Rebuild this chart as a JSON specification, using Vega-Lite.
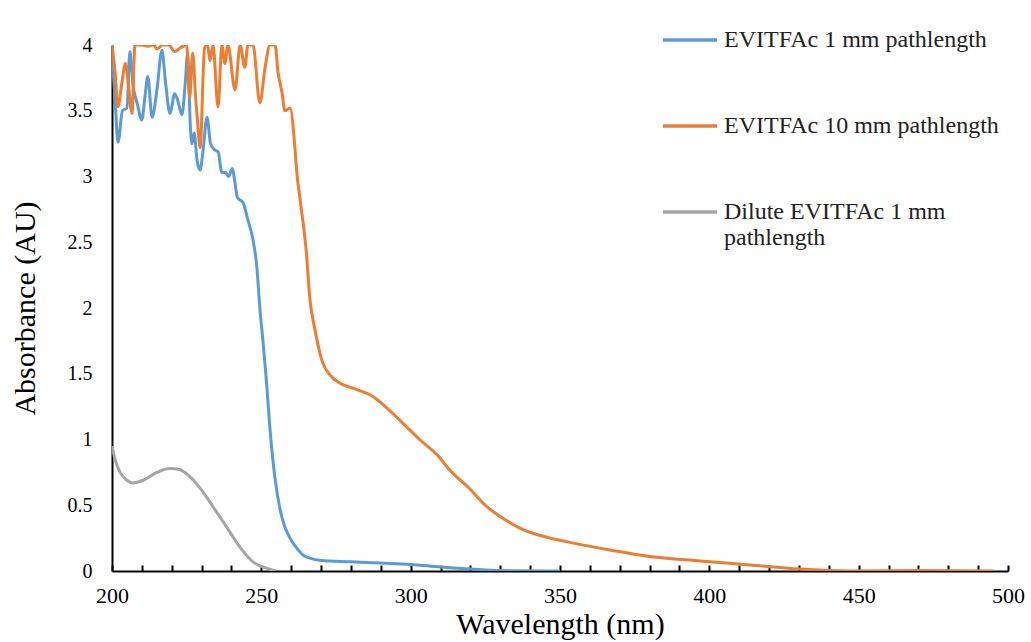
{
  "$schema": "https://vega.github.io/schema/vega-lite/v6.json",
  "width": 896,
  "height": 526,
  "autosize": {"type": "none"},
  "padding": {"left": 112, "top": 45, "right": 23, "bottom": 71},
  "background": "white",
  "config": {"view": {"stroke": null}},
  "data": {"values": [
    {"s": "EVITFAc 1 mm pathlength", "w": 200, "a": 3.92},
    {"s": "EVITFAc 1 mm pathlength", "w": 201, "a": 3.6},
    {"s": "EVITFAc 1 mm pathlength", "w": 202, "a": 3.26},
    {"s": "EVITFAc 1 mm pathlength", "w": 203.5, "a": 3.5},
    {"s": "EVITFAc 1 mm pathlength", "w": 205, "a": 3.52},
    {"s": "EVITFAc 1 mm pathlength", "w": 206, "a": 3.95},
    {"s": "EVITFAc 1 mm pathlength", "w": 207, "a": 3.7},
    {"s": "EVITFAc 1 mm pathlength", "w": 208.5, "a": 3.55},
    {"s": "EVITFAc 1 mm pathlength", "w": 210, "a": 3.43},
    {"s": "EVITFAc 1 mm pathlength", "w": 211, "a": 3.6},
    {"s": "EVITFAc 1 mm pathlength", "w": 212, "a": 3.76},
    {"s": "EVITFAc 1 mm pathlength", "w": 213.4, "a": 3.45},
    {"s": "EVITFAc 1 mm pathlength", "w": 215, "a": 3.65},
    {"s": "EVITFAc 1 mm pathlength", "w": 216.7, "a": 3.96},
    {"s": "EVITFAc 1 mm pathlength", "w": 218, "a": 3.7},
    {"s": "EVITFAc 1 mm pathlength", "w": 219.4, "a": 3.48},
    {"s": "EVITFAc 1 mm pathlength", "w": 221, "a": 3.63},
    {"s": "EVITFAc 1 mm pathlength", "w": 222, "a": 3.58},
    {"s": "EVITFAc 1 mm pathlength", "w": 223.4, "a": 3.47},
    {"s": "EVITFAc 1 mm pathlength", "w": 224.5, "a": 3.7},
    {"s": "EVITFAc 1 mm pathlength", "w": 225.3, "a": 3.93},
    {"s": "EVITFAc 1 mm pathlength", "w": 226.3, "a": 3.35},
    {"s": "EVITFAc 1 mm pathlength", "w": 226.8, "a": 3.25},
    {"s": "EVITFAc 1 mm pathlength", "w": 227.5, "a": 3.33},
    {"s": "EVITFAc 1 mm pathlength", "w": 228.5, "a": 3.12},
    {"s": "EVITFAc 1 mm pathlength", "w": 229.5, "a": 3.05},
    {"s": "EVITFAc 1 mm pathlength", "w": 230.5, "a": 3.2},
    {"s": "EVITFAc 1 mm pathlength", "w": 231.8, "a": 3.45},
    {"s": "EVITFAc 1 mm pathlength", "w": 233, "a": 3.25},
    {"s": "EVITFAc 1 mm pathlength", "w": 234.5, "a": 3.2},
    {"s": "EVITFAc 1 mm pathlength", "w": 235.5, "a": 3.19},
    {"s": "EVITFAc 1 mm pathlength", "w": 236.8, "a": 3.03},
    {"s": "EVITFAc 1 mm pathlength", "w": 238, "a": 3.03},
    {"s": "EVITFAc 1 mm pathlength", "w": 239, "a": 3.0},
    {"s": "EVITFAc 1 mm pathlength", "w": 240.3, "a": 3.06},
    {"s": "EVITFAc 1 mm pathlength", "w": 241, "a": 2.98},
    {"s": "EVITFAc 1 mm pathlength", "w": 242, "a": 2.84},
    {"s": "EVITFAc 1 mm pathlength", "w": 243.9, "a": 2.8},
    {"s": "EVITFAc 1 mm pathlength", "w": 245.5, "a": 2.67},
    {"s": "EVITFAc 1 mm pathlength", "w": 247.2, "a": 2.52},
    {"s": "EVITFAc 1 mm pathlength", "w": 248.5, "a": 2.31},
    {"s": "EVITFAc 1 mm pathlength", "w": 249.5, "a": 2.0},
    {"s": "EVITFAc 1 mm pathlength", "w": 250.5, "a": 1.76},
    {"s": "EVITFAc 1 mm pathlength", "w": 251.5, "a": 1.5},
    {"s": "EVITFAc 1 mm pathlength", "w": 253.2, "a": 1.0},
    {"s": "EVITFAc 1 mm pathlength", "w": 254.5, "a": 0.72},
    {"s": "EVITFAc 1 mm pathlength", "w": 256, "a": 0.5},
    {"s": "EVITFAc 1 mm pathlength", "w": 257.5, "a": 0.36},
    {"s": "EVITFAc 1 mm pathlength", "w": 259.6, "a": 0.25},
    {"s": "EVITFAc 1 mm pathlength", "w": 262, "a": 0.17},
    {"s": "EVITFAc 1 mm pathlength", "w": 264, "a": 0.12},
    {"s": "EVITFAc 1 mm pathlength", "w": 266, "a": 0.1},
    {"s": "EVITFAc 1 mm pathlength", "w": 270, "a": 0.08},
    {"s": "EVITFAc 1 mm pathlength", "w": 280, "a": 0.07},
    {"s": "EVITFAc 1 mm pathlength", "w": 290, "a": 0.06},
    {"s": "EVITFAc 1 mm pathlength", "w": 300, "a": 0.05},
    {"s": "EVITFAc 1 mm pathlength", "w": 310, "a": 0.03},
    {"s": "EVITFAc 1 mm pathlength", "w": 320, "a": 0.015},
    {"s": "EVITFAc 1 mm pathlength", "w": 330, "a": 0.003},
    {"s": "EVITFAc 1 mm pathlength", "w": 350, "a": 0.0},

    {"s": "EVITFAc 10 mm pathlength", "w": 200, "a": 4.0},
    {"s": "EVITFAc 10 mm pathlength", "w": 201, "a": 3.8},
    {"s": "EVITFAc 10 mm pathlength", "w": 202, "a": 3.53},
    {"s": "EVITFAc 10 mm pathlength", "w": 203.3, "a": 3.71},
    {"s": "EVITFAc 10 mm pathlength", "w": 204.5, "a": 3.86},
    {"s": "EVITFAc 10 mm pathlength", "w": 205.5, "a": 3.7},
    {"s": "EVITFAc 10 mm pathlength", "w": 206.7, "a": 3.48},
    {"s": "EVITFAc 10 mm pathlength", "w": 207.7, "a": 4.0},
    {"s": "EVITFAc 10 mm pathlength", "w": 210, "a": 4.0},
    {"s": "EVITFAc 10 mm pathlength", "w": 212, "a": 3.99},
    {"s": "EVITFAc 10 mm pathlength", "w": 214, "a": 4.0},
    {"s": "EVITFAc 10 mm pathlength", "w": 215, "a": 3.97},
    {"s": "EVITFAc 10 mm pathlength", "w": 217, "a": 4.0},
    {"s": "EVITFAc 10 mm pathlength", "w": 219, "a": 4.0},
    {"s": "EVITFAc 10 mm pathlength", "w": 221, "a": 3.95},
    {"s": "EVITFAc 10 mm pathlength", "w": 223, "a": 3.98},
    {"s": "EVITFAc 10 mm pathlength", "w": 225, "a": 4.0},
    {"s": "EVITFAc 10 mm pathlength", "w": 226, "a": 3.6},
    {"s": "EVITFAc 10 mm pathlength", "w": 227, "a": 3.94},
    {"s": "EVITFAc 10 mm pathlength", "w": 228, "a": 3.6},
    {"s": "EVITFAc 10 mm pathlength", "w": 228.7, "a": 3.4},
    {"s": "EVITFAc 10 mm pathlength", "w": 229.5, "a": 3.22},
    {"s": "EVITFAc 10 mm pathlength", "w": 231, "a": 3.98},
    {"s": "EVITFAc 10 mm pathlength", "w": 232, "a": 4.0},
    {"s": "EVITFAc 10 mm pathlength", "w": 232.8, "a": 3.88},
    {"s": "EVITFAc 10 mm pathlength", "w": 233.8, "a": 4.0},
    {"s": "EVITFAc 10 mm pathlength", "w": 235.5, "a": 3.53},
    {"s": "EVITFAc 10 mm pathlength", "w": 236.8, "a": 4.0},
    {"s": "EVITFAc 10 mm pathlength", "w": 237.8, "a": 3.86},
    {"s": "EVITFAc 10 mm pathlength", "w": 238.8, "a": 4.0},
    {"s": "EVITFAc 10 mm pathlength", "w": 241.2, "a": 3.66},
    {"s": "EVITFAc 10 mm pathlength", "w": 242.9, "a": 4.0},
    {"s": "EVITFAc 10 mm pathlength", "w": 244.5, "a": 3.83},
    {"s": "EVITFAc 10 mm pathlength", "w": 245.5, "a": 4.0},
    {"s": "EVITFAc 10 mm pathlength", "w": 247.2, "a": 4.0},
    {"s": "EVITFAc 10 mm pathlength", "w": 249.5, "a": 3.56},
    {"s": "EVITFAc 10 mm pathlength", "w": 251.2, "a": 3.82},
    {"s": "EVITFAc 10 mm pathlength", "w": 252.9, "a": 4.0},
    {"s": "EVITFAc 10 mm pathlength", "w": 254.6, "a": 4.0},
    {"s": "EVITFAc 10 mm pathlength", "w": 255.6, "a": 3.79},
    {"s": "EVITFAc 10 mm pathlength", "w": 256.9, "a": 3.64},
    {"s": "EVITFAc 10 mm pathlength", "w": 257.9, "a": 3.5},
    {"s": "EVITFAc 10 mm pathlength", "w": 259.6, "a": 3.52},
    {"s": "EVITFAc 10 mm pathlength", "w": 261.3, "a": 3.2},
    {"s": "EVITFAc 10 mm pathlength", "w": 261.8, "a": 3.05},
    {"s": "EVITFAc 10 mm pathlength", "w": 263, "a": 2.82},
    {"s": "EVITFAc 10 mm pathlength", "w": 265, "a": 2.44},
    {"s": "EVITFAc 10 mm pathlength", "w": 266.3, "a": 2.06},
    {"s": "EVITFAc 10 mm pathlength", "w": 268, "a": 1.83},
    {"s": "EVITFAc 10 mm pathlength", "w": 270.3, "a": 1.6},
    {"s": "EVITFAc 10 mm pathlength", "w": 273, "a": 1.49},
    {"s": "EVITFAc 10 mm pathlength", "w": 276.3, "a": 1.43},
    {"s": "EVITFAc 10 mm pathlength", "w": 282, "a": 1.38},
    {"s": "EVITFAc 10 mm pathlength", "w": 286.4, "a": 1.34},
    {"s": "EVITFAc 10 mm pathlength", "w": 293, "a": 1.22},
    {"s": "EVITFAc 10 mm pathlength", "w": 298, "a": 1.11},
    {"s": "EVITFAc 10 mm pathlength", "w": 303, "a": 1.0},
    {"s": "EVITFAc 10 mm pathlength", "w": 309, "a": 0.88},
    {"s": "EVITFAc 10 mm pathlength", "w": 313, "a": 0.77},
    {"s": "EVITFAc 10 mm pathlength", "w": 320, "a": 0.62},
    {"s": "EVITFAc 10 mm pathlength", "w": 325, "a": 0.5},
    {"s": "EVITFAc 10 mm pathlength", "w": 331.6, "a": 0.39},
    {"s": "EVITFAc 10 mm pathlength", "w": 338, "a": 0.31},
    {"s": "EVITFAc 10 mm pathlength", "w": 345, "a": 0.26},
    {"s": "EVITFAc 10 mm pathlength", "w": 355, "a": 0.21},
    {"s": "EVITFAc 10 mm pathlength", "w": 366.7, "a": 0.16},
    {"s": "EVITFAc 10 mm pathlength", "w": 380, "a": 0.11},
    {"s": "EVITFAc 10 mm pathlength", "w": 397, "a": 0.076},
    {"s": "EVITFAc 10 mm pathlength", "w": 413.6, "a": 0.046},
    {"s": "EVITFAc 10 mm pathlength", "w": 430, "a": 0.015},
    {"s": "EVITFAc 10 mm pathlength", "w": 447, "a": 0.0},
    {"s": "EVITFAc 10 mm pathlength", "w": 470, "a": 0.003},
    {"s": "EVITFAc 10 mm pathlength", "w": 495, "a": 0.0},

    {"s": "Dilute EVITFAc 1 mm pathlength", "w": 200, "a": 0.95},
    {"s": "Dilute EVITFAc 1 mm pathlength", "w": 201, "a": 0.85},
    {"s": "Dilute EVITFAc 1 mm pathlength", "w": 202.7, "a": 0.75},
    {"s": "Dilute EVITFAc 1 mm pathlength", "w": 205, "a": 0.69},
    {"s": "Dilute EVITFAc 1 mm pathlength", "w": 207, "a": 0.67},
    {"s": "Dilute EVITFAc 1 mm pathlength", "w": 210.4, "a": 0.69},
    {"s": "Dilute EVITFAc 1 mm pathlength", "w": 215, "a": 0.75},
    {"s": "Dilute EVITFAc 1 mm pathlength", "w": 219.4, "a": 0.78},
    {"s": "Dilute EVITFAc 1 mm pathlength", "w": 222.8, "a": 0.77},
    {"s": "Dilute EVITFAc 1 mm pathlength", "w": 226, "a": 0.72},
    {"s": "Dilute EVITFAc 1 mm pathlength", "w": 229.5, "a": 0.63},
    {"s": "Dilute EVITFAc 1 mm pathlength", "w": 233.8, "a": 0.49},
    {"s": "Dilute EVITFAc 1 mm pathlength", "w": 238.5, "a": 0.33},
    {"s": "Dilute EVITFAc 1 mm pathlength", "w": 242.9, "a": 0.18},
    {"s": "Dilute EVITFAc 1 mm pathlength", "w": 247.2, "a": 0.07},
    {"s": "Dilute EVITFAc 1 mm pathlength", "w": 251.9, "a": 0.02},
    {"s": "Dilute EVITFAc 1 mm pathlength", "w": 255, "a": 0.0}
  ]},
  "layer": [
    {
      "mark": {"type": "line", "strokeWidth": 3, "interpolate": "monotone", "clip": true},
      "encoding": {
        "x": {
          "field": "w", "type": "quantitative",
          "scale": {"domain": [200, 500], "nice": false, "zero": false},
          "axis": {
            "title": "Wavelength (nm)",
            "titleFont": "Liberation Serif",
            "titleFontStyle": "normal",
            "titleFontSize": 30,
            "titleFontWeight": 400,
            "titleColor": "#000",
            "titlePadding": 3,
            "gridOpacity": 0,
            "domainColor": "#000",
            "domainWidth": 2,
            "values": [200,210,220,230,240,250,260,270,280,290,300,310,320,330,340,350,360,370,380,390,400,410,420,430,440,450,460,470,480,490,500],
            "labelExpr": "datum.value % 50 == 0 ? datum.label : ''",
            "labelFont": "Liberation Serif",
            "labelFontStyle": "normal",
            "labelFontWeight": 400,
            "labelFontSize": 22,
            "labelColor": "#000",
            "labelPadding": 20,
            "tickColor": "#000",
            "tickSize": -6,
            "tickWidth": 2,
            "labelFlush": false
          }
        },
        "y": {
          "field": "a", "type": "quantitative",
          "scale": {"domain": [0, 4], "nice": false},
          "axis": {
            "title": "Absorbance (AU)",
            "titleFont": "Liberation Serif",
            "titleFontStyle": "normal",
            "titleFontSize": 30,
            "titleFontWeight": 400,
            "titleColor": "#000",
            "titlePadding": 27,
            "gridOpacity": 0,
            "domainColor": "#000",
            "domainWidth": 2,
            "values": [0, 0.5, 1, 1.5, 2, 2.5, 3, 3.5, 4],
            "format": "~g",
            "labelFont": "Liberation Serif",
            "labelFontStyle": "normal",
            "labelFontWeight": 400,
            "labelFontSize": 20,
            "labelColor": "#000",
            "ticks": false,
            "labelPadding": 20
          }
        },
        "color": {
          "field": "s", "type": "nominal",
          "scale": {
            "domain": ["EVITFAc 1 mm pathlength", "EVITFAc 10 mm pathlength", "Dilute EVITFAc 1 mm pathlength"],
            "range": ["#5B9BD5", "#ED7D31", "#A5A5A5"]
          },
          "legend": {
            "title": null,
            "orient": "none",
            "legendX": 549,
            "legendY": -34,
            "symbolType": "stroke",
            "symbolSize": 2916,
            "symbolStrokeWidth": 3.5,
            "labelFont": "Liberation Serif",
            "labelFontSize": 24,
            "labelColor": "#222",
            "labelLimit": 400,
            "labelOffset": 5,
            "rowPadding": 45,
            "labelExpr": "datum.label == 'Dilute EVITFAc 1 mm pathlength' ? ['Dilute EVITFAc 1 mm', 'pathlength'] : datum.label"
          }
        }
      }
    }
  ]
}
